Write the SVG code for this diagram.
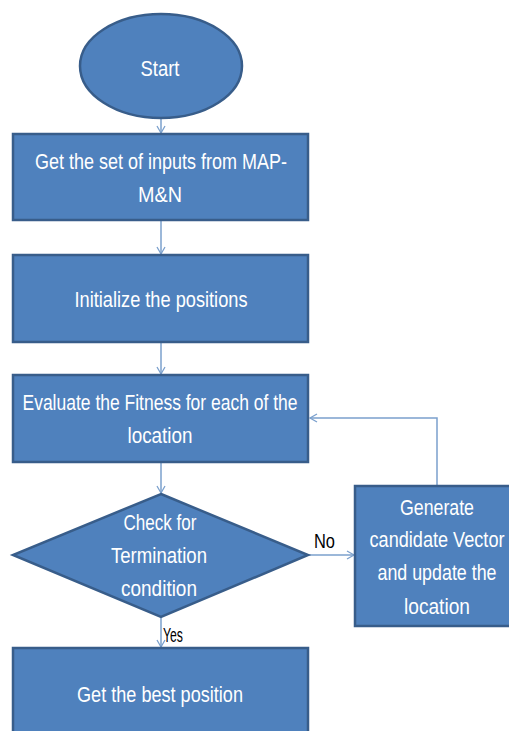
<svg xmlns="http://www.w3.org/2000/svg" width="509" height="731" viewBox="0 0 509 731">
<defs>
<marker id="arr" markerWidth="10" markerHeight="10" refX="8" refY="5" orient="auto" markerUnits="userSpaceOnUse">
<path d="M1,1 L8,5 L1,9" fill="none" stroke="#7BA0CD" stroke-width="1.3"/>
</marker>
</defs>
<style>
.shape{fill:#4F81BD;stroke:#385D8A;stroke-width:2.5}
.t{fill:#ffffff;font-family:"Liberation Sans",Arial,sans-serif;font-size:22px;text-anchor:middle}
.lbl{fill:#000000;font-family:"Liberation Sans",Arial,sans-serif;font-size:20px}
.c{fill:none;stroke:#7BA0CD;stroke-width:1.5}
</style>
<rect width="509" height="731" fill="#ffffff"/>
<g id="connectors">
<line class="c" x1="161" y1="118" x2="161" y2="133" marker-end="url(#arr)"/>
<line class="c" x1="161" y1="221" x2="161" y2="254" marker-end="url(#arr)"/>
<line class="c" x1="161" y1="343" x2="161" y2="374" marker-end="url(#arr)"/>
<line class="c" x1="161" y1="463" x2="161" y2="493" marker-end="url(#arr)"/>
<line class="c" x1="161" y1="618" x2="161" y2="647" marker-end="url(#arr)"/>
<line class="c" x1="309" y1="555" x2="354" y2="555" marker-end="url(#arr)"/>
<polyline class="c" points="437,485 437,418 310,418" marker-end="url(#arr)"/>
<text class="lbl" x="314" y="548" textLength="21" lengthAdjust="spacingAndGlyphs">No</text>
<text class="lbl" x="163" y="642" textLength="20" lengthAdjust="spacingAndGlyphs">Yes</text>
</g>
<g id="start">
<ellipse class="shape" cx="161" cy="66" rx="81" ry="52"/>
<text class="t" x="160" y="76" textLength="39" lengthAdjust="spacingAndGlyphs">Start</text>
</g>
<g id="inputs">
<rect class="shape" x="13" y="134" width="295" height="86"/>
<text class="t" x="161" y="169" textLength="252" lengthAdjust="spacingAndGlyphs">Get the set of inputs from MAP-</text>
<text class="t" x="160" y="202" textLength="44" lengthAdjust="spacingAndGlyphs">M&amp;N</text>
</g>
<g id="init">
<rect class="shape" x="13" y="255" width="295" height="87"/>
<text class="t" x="161" y="307" textLength="173" lengthAdjust="spacingAndGlyphs">Initialize the positions</text>
</g>
<g id="evaluate">
<rect class="shape" x="13" y="375" width="295" height="87"/>
<text class="t" x="160" y="410" textLength="275" lengthAdjust="spacingAndGlyphs">Evaluate the Fitness for each of the</text>
<text class="t" x="160" y="443" textLength="65" lengthAdjust="spacingAndGlyphs">location</text>
</g>
<g id="check">
<polygon class="shape" points="161,494 308,555 161,617 13,555"/>
<text class="t" x="160" y="530" textLength="73" lengthAdjust="spacingAndGlyphs">Check for</text>
<text class="t" x="159" y="563" textLength="96" lengthAdjust="spacingAndGlyphs">Termination</text>
<text class="t" x="159" y="596" textLength="76" lengthAdjust="spacingAndGlyphs">condition</text>
</g>
<g id="generate">
<rect class="shape" x="355" y="486" width="170" height="140"/>
<text class="t" x="437" y="515" textLength="74" lengthAdjust="spacingAndGlyphs">Generate</text>
<text class="t" x="437" y="547" textLength="135" lengthAdjust="spacingAndGlyphs">candidate Vector</text>
<text class="t" x="437" y="580" textLength="119" lengthAdjust="spacingAndGlyphs">and update the</text>
<text class="t" x="437" y="614" textLength="66" lengthAdjust="spacingAndGlyphs">location</text>
</g>
<g id="best">
<rect class="shape" x="13" y="648" width="295" height="100"/>
<text class="t" x="160" y="702" textLength="166" lengthAdjust="spacingAndGlyphs">Get the best position</text>
</g>
</svg>
